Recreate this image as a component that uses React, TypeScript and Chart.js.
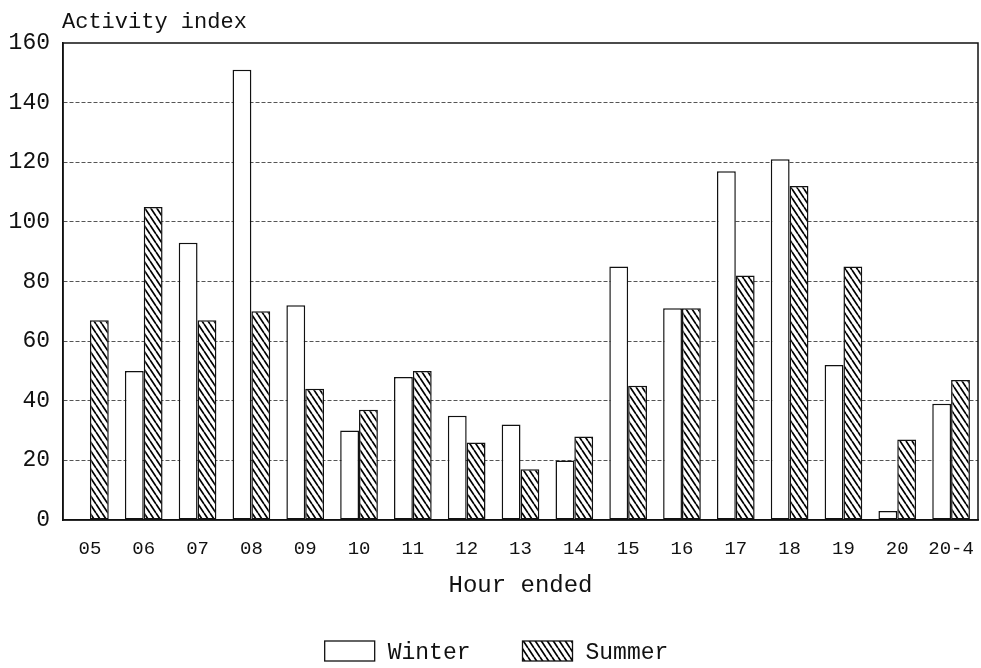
import { useEffect, useRef } from 'react';
import { Chart, registerables } from 'chart.js';

Chart.register(...registerables);

const hours = ['05', '06', '07', '08', '09', '10', '11', '12', '13', '14', '15', '16', '17', '18', '19', '20', '20-4'];
const winter = [0, 50, 93, 151, 72, 30, 48, 35, 32, 20, 85, 71, 117, 121, 52, 3, 39];
const summer = [67, 105, 67, 70, 44, 37, 50, 26, 17, 28, 45, 71, 82, 112, 85, 27, 47];
const yMin = 0;
const yMax = 160;
const yStep = 20;
const seriesNames = ['Winter', 'Summer'];
const yTitle = 'Activity index';
const xTitle = 'Hour ended';

const FONT = '"Liberation Mono", "DejaVu Sans Mono", monospace';

function makeHatch(): CanvasPattern | string {
  const w = 6;
  const h = 9;
  const c = document.createElement('canvas');
  c.width = w;
  c.height = h;
  const g = c.getContext('2d');
  if (!g) return '#888';
  g.fillStyle = '#ffffff';
  g.fillRect(0, 0, w, h);
  g.strokeStyle = '#000000';
  g.lineWidth = 1.7;
  g.beginPath();
  for (let k = -1; k <= 1; k++) {
    g.moveTo(k * w, 0);
    g.lineTo(k * w + w, h);
  }
  g.stroke();
  const p = g.createPattern(c, 'repeat');
  return p || '#888';
}

const framePlugin = {
  id: 'frame',
  beforeDatasetsDraw(chart: any) {
    const { ctx, chartArea } = chart;
    ctx.save();
    ctx.strokeStyle = '#111';
    ctx.lineWidth = 1.5;
    ctx.strokeRect(chartArea.left, chartArea.top, chartArea.right - chartArea.left, chartArea.bottom - chartArea.top);
    ctx.restore();
  },
  afterDraw(chart: any) {
    const { ctx, chartArea } = chart;
    ctx.save();
    ctx.fillStyle = '#111';
    ctx.font = `22px ${FONT}`;
    ctx.textAlign = 'left';
    ctx.textBaseline = 'alphabetic';
    ctx.fillText(yTitle, chartArea.left - 1, 28);

    // legend built from the datasets
    const boxW = 50;
    const boxH = 20;
    const gapText = 13;
    const gapItem = 52;
    ctx.font = `23px ${FONT}`;
    const items = chart.data.datasets.map((ds: any) => ({
      label: ds.label,
      fill: ds.backgroundColor,
      stroke: ds.borderColor,
      w: boxW + gapText + ctx.measureText(ds.label).width,
    }));
    const total = items.reduce((s: number, it: any) => s + it.w, 0) + gapItem * (items.length - 1);
    let x = (chart.width - total) / 2 + 6;
    const top = 641;
    items.forEach((it: any) => {
      ctx.fillStyle = it.fill;
      ctx.fillRect(x, top, boxW, boxH);
      ctx.strokeStyle = it.stroke;
      ctx.lineWidth = 1.3;
      ctx.strokeRect(x, top, boxW, boxH);
      ctx.fillStyle = '#111';
      ctx.textBaseline = 'middle';
      ctx.fillText(it.label, x + boxW + gapText, top + boxH / 2 + 2);
      x += it.w + gapItem;
    });
    ctx.restore();
  },
};

export default function App() {
  const ref = useRef<HTMLCanvasElement | null>(null);

  useEffect(() => {
    if (!ref.current) return;
    const hatch = makeHatch();
    const chart = new Chart(ref.current, {
      type: 'bar',
      data: {
        labels: hours,
        datasets: [
          {
            label: seriesNames[0],
            data: winter,
            backgroundColor: '#ffffff',
            borderColor: '#111',
            borderWidth: 1.5,
            borderSkipped: false,
            categoryPercentage: 0.7,
            barPercentage: 1.0,
          },
          {
            label: seriesNames[1],
            data: summer,
            backgroundColor: hatch as any,
            borderColor: '#111',
            borderWidth: 1.5,
            borderSkipped: false,
            categoryPercentage: 0.7,
            barPercentage: 1.0,
          },
        ],
      },
      options: {
        responsive: false,
        animation: false,
        layout: { padding: { top: 43, right: 3, bottom: 0, left: 0 } },
        plugins: {
          tooltip: { enabled: false },
          title: { display: false },
          legend: { display: false },
        },
        scales: {
          x: {
            grid: { display: false, drawTicks: false },
            border: { display: true, color: '#111', width: 1.5 },
            ticks: {
              font: { family: FONT, size: 19 },
              color: '#111',
              padding: 18,
              maxRotation: 0,
              autoSkip: false,
            },
            title: {
              display: true,
              text: xTitle,
              font: { family: FONT, size: 24 },
              color: '#111',
              padding: { top: 0, bottom: 68 },
            },
            afterFit(scale: any) {
              scale.height = 148;
              scale.paddingLeft = 0;
              scale.paddingRight = 0;
            },
          },
          y: {
            min: yMin,
            max: yMax,
            grid: {
              drawTicks: false,
              lineWidth: 1,
              color: (c: any) =>
                c.tick && (c.tick.value === yMin || c.tick.value === yMax) ? 'rgba(0,0,0,0)' : '#555',
            },
            border: { display: true, color: '#111', width: 1.5, dash: [4, 2] },
            ticks: {
              stepSize: yStep,
              font: { family: FONT, size: 23 },
              color: '#111',
              padding: 13,
            },
            afterFit(scale: any) {
              scale.width = 63;
            },
          },
        },
      },
      plugins: [framePlugin],
    });
    return () => chart.destroy();
  }, []);

  return (
    <div style={{ position: 'fixed', left: 0, top: 0, width: 981, height: 668, background: '#fff' }}>
      <canvas ref={ref} width={981} height={668} />
    </div>
  );
}
